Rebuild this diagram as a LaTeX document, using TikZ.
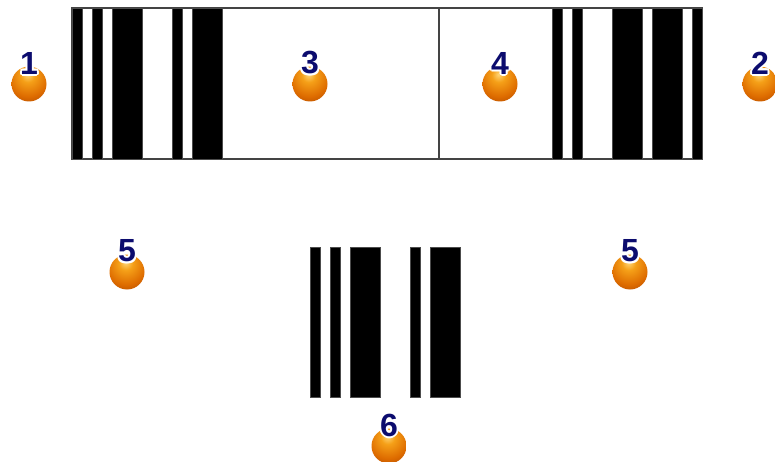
\documentclass[tikz,border=0pt]{standalone}
\usepackage{fontspec}
\setmainfont{Liberation Sans}
\definecolor{orbhi}{HTML}{FFD678}
\definecolor{orbmid}{HTML}{F5A018}
\definecolor{orbdark}{HTML}{DE6C00}
\definecolor{orbedge}{HTML}{9E3C00}
\definecolor{navy}{HTML}{0C0C6E}
\definecolor{frame}{HTML}{444444}
\pgfdeclareradialshading{orbshade}{\pgfpoint{-2bp}{14bp}}{%
  color(0bp)=(orbhi); color(10bp)=(orbmid); color(28bp)=(orbdark);
  color(48bp)=(orbedge); color(100bp)=(orbedge)}
\tikzset{
  bar/.style={fill=black, draw=black!70, line width=0.4pt},
  orbball/.style={circle, minimum size=35pt, inner sep=0pt, shading=orbshade},
  orbnum/.style={font=\bfseries\fontsize{32}{32}\selectfont, text=navy, inner sep=0pt},
  orbhalo/.style={font=\bfseries\fontsize{32}{32}\selectfont, text=white, inner sep=0pt},
}
\newcommand\orb[4]{%
  \node[orbball] (#1) at (#2,#3) {};
  \foreach \dx/\dy in {-2/0,2/0,0/-2,0/2,-1.5/-1.5,1.5/-1.5,-1.5/1.5,1.5/1.5}
    \node[orbhalo] at (#2+\dx,#3-21+\dy) {#4};
  \node[orbnum] (#1n) at (#2,#3-21) {#4};
}
\begin{document}
\begin{tikzpicture}[x=1pt,y=-1pt]
\useasboundingbox[fill=white] (0,0) rectangle (775,462);
% top symbol frame
\node[draw=frame, line width=1.4pt, minimum width=630pt, minimum height=151pt, inner sep=0pt] (frm) at (387,83.5) {};
\coordinate (divtop) at (439,8);
\coordinate (divbot) at (439,159);
\draw[frame, line width=1.4pt] (divtop) -- (divbot);
% left guard
\foreach \a/\b in {72/82,92/102,112/142,172/182,192/222}
  \draw[bar] (\a,8) rectangle (\b,159);
% right guard
\foreach \a/\b in {552/562,572/582,612/642,652/682,692/702}
  \draw[bar] (\a,8) rectangle (\b,159);
% bottom symbol
\foreach \a/\b in {310/320,330/340,350/380,410/420,430/460}
  \draw[bar] (\a,247) rectangle (\b,397);
% markers
\orb{m1}{29}{84}{1}
\orb{m3}{310}{84}{3}
\orb{m4}{500}{84}{4}
\orb{m2}{760}{84}{2}
\orb{m5a}{127}{272}{5}
\orb{m5b}{630}{272}{5}
\orb{m6}{389}{446}{6}
\end{tikzpicture}
\end{document}
